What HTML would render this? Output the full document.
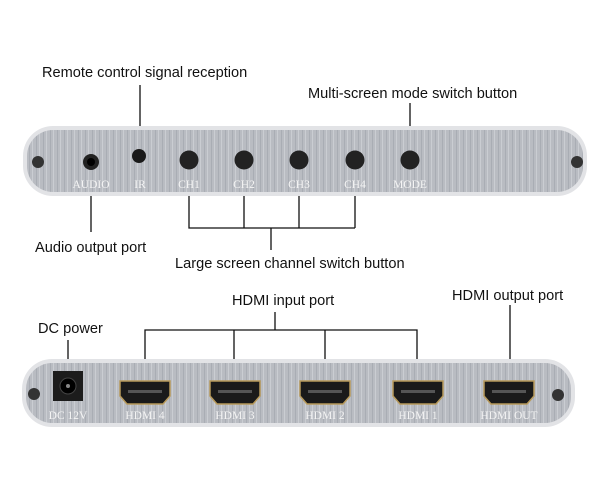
<!DOCTYPE html>
<html><head><style>
html,body{margin:0;padding:0;background:#fff;width:600px;height:485px;overflow:hidden}
.l{font-family:"Liberation Sans",sans-serif;font-size:14.6px;fill:#111}
.p text{font-family:"Liberation Serif",serif;font-size:11.5px;fill:#f4f4f4}
</style></head><body>
<svg width="600" height="485" viewBox="0 0 600 485" xmlns="http://www.w3.org/2000/svg">
<defs>
<pattern id="br" width="7" height="10" patternUnits="userSpaceOnUse">
<rect width="7" height="10" fill="#b9bcc2"/><rect x="1" width="1" height="10" fill="#a9adb4"/><rect x="4" width="1" height="10" fill="#cacdd2"/>
</pattern>
<g id="hd"><path d="M-25,-12 H25 V3 L18,11 H-18 L-25,3 Z" fill="#1a1a1a" stroke="#b89a5a" stroke-width="1.5"/><rect x="-17" y="-3" width="34" height="3" fill="#555"/></g>
</defs>
<!-- top panel -->
<rect x="23" y="126" width="564" height="70" rx="30" fill="#e2e3e6"/>
<rect x="27" y="130" width="556" height="62" rx="26" fill="url(#br)"/>
<circle cx="38" cy="162" r="6" fill="#333"/><circle cx="577" cy="162" r="6" fill="#333"/>
<circle cx="91" cy="162" r="8" fill="#222"/><circle cx="91" cy="162" r="4" fill="#000"/>
<circle cx="139" cy="156" r="7" fill="#1a1a1a"/>
<circle cx="189" cy="160" r="9.5" fill="#222"/><circle cx="244" cy="160" r="9.5" fill="#222"/>
<circle cx="299" cy="160" r="9.5" fill="#222"/><circle cx="355" cy="160" r="9.5" fill="#222"/>
<circle cx="410" cy="160" r="9.5" fill="#222"/>
<g class="p" text-anchor="middle"><text x="91" y="188">AUDIO</text><text x="140" y="188">IR</text><text x="189" y="188">CH1</text><text x="244" y="188">CH2</text><text x="299" y="188">CH3</text><text x="355" y="188">CH4</text><text x="410" y="188">MODE</text></g>
<g stroke="#111" stroke-width="1.3" fill="none">
<path d="M140 85V126M410 103V126M91 196V232M189 196V228H355M244 196V228M299 196V228M355 196V228M271 228V250"/>
<path d="M68 340V360M145 360V330H417V360M234 330V360M325 330V360M275 312V330M510 305V360"/>
</g>
<text class="l" x="42" y="77">Remote control signal reception</text>
<text class="l" x="308" y="98">Multi-screen mode switch button</text>
<text class="l" x="35" y="252">Audio output port</text>
<text class="l" x="175" y="268">Large screen channel switch button</text>
<text class="l" x="38" y="333">DC power</text>
<text class="l" x="232" y="305">HDMI input port</text>
<text class="l" x="452" y="300">HDMI output port</text>
<!-- bottom panel -->
<rect x="22" y="359" width="553" height="68" rx="30" fill="#e2e3e6"/>
<rect x="26" y="363" width="545" height="60" rx="26" fill="url(#br)"/>
<circle cx="34" cy="394" r="6" fill="#333"/><circle cx="558" cy="395" r="6" fill="#333"/>
<rect x="53" y="371" width="30" height="30" fill="#1c1c1c"/><circle cx="68" cy="386" r="8" fill="#000" stroke="#444"/><circle cx="68" cy="386" r="2" fill="#888"/>
<use href="#hd" x="145" y="393"/><use href="#hd" x="235" y="393"/><use href="#hd" x="325" y="393"/><use href="#hd" x="418" y="393"/><use href="#hd" x="509" y="393"/>
<g class="p" text-anchor="middle"><text x="68" y="419">DC 12V</text><text x="145" y="419">HDMI 4</text><text x="235" y="419">HDMI 3</text><text x="325" y="419">HDMI 2</text><text x="418" y="419">HDMI 1</text><text x="509" y="419">HDMI OUT</text></g>
</svg>
</body></html>
